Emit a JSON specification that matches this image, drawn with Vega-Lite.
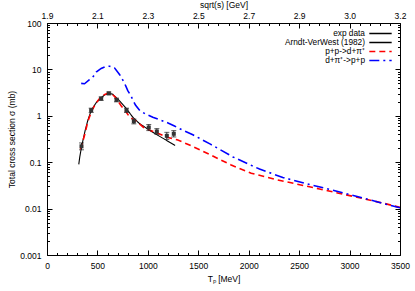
{
  "$schema": "https://vega.github.io/schema/vega-lite/v6.json",
  "width": 353,
  "height": 232,
  "autosize": {"type": "none"},
  "padding": {"left": 47, "top": 23, "right": 15, "bottom": 36},
  "config": {
    "view": {"stroke": "black", "strokeWidth": 1},
    "font": "Liberation Sans",
    "axis": {"labelFontSize": 8.5, "titleFontSize": 8.5, "titleFontWeight": "normal", "labelColor": "black", "titleColor": "black", "domain": false, "tickColor": "black", "grid": false, "labelFont": "Liberation Sans", "titleFont": "Liberation Sans"},
    "legend": {"labelFontSize": 8.3, "labelFont": "Liberation Sans", "labelColor": "black", "padding": 0}
  },
  "datasets": {
    "arndt": [
      {"series": "Arndt-VerWest (1982)", "T": 315, "sigma": 0.09},
      {"series": "Arndt-VerWest (1982)", "T": 325, "sigma": 0.13},
      {"series": "Arndt-VerWest (1982)", "T": 340, "sigma": 0.2},
      {"series": "Arndt-VerWest (1982)", "T": 360, "sigma": 0.32},
      {"series": "Arndt-VerWest (1982)", "T": 380, "sigma": 0.5},
      {"series": "Arndt-VerWest (1982)", "T": 405, "sigma": 0.8},
      {"series": "Arndt-VerWest (1982)", "T": 438, "sigma": 1.3},
      {"series": "Arndt-VerWest (1982)", "T": 488, "sigma": 1.92},
      {"series": "Arndt-VerWest (1982)", "T": 537, "sigma": 2.45},
      {"series": "Arndt-VerWest (1982)", "T": 570, "sigma": 2.8},
      {"series": "Arndt-VerWest (1982)", "T": 613, "sigma": 3.1},
      {"series": "Arndt-VerWest (1982)", "T": 653, "sigma": 2.9},
      {"series": "Arndt-VerWest (1982)", "T": 719, "sigma": 2.1},
      {"series": "Arndt-VerWest (1982)", "T": 785, "sigma": 1.45},
      {"series": "Arndt-VerWest (1982)", "T": 851, "sigma": 0.93},
      {"series": "Arndt-VerWest (1982)", "T": 917, "sigma": 0.68},
      {"series": "Arndt-VerWest (1982)", "T": 1016, "sigma": 0.49},
      {"series": "Arndt-VerWest (1982)", "T": 1099, "sigma": 0.38},
      {"series": "Arndt-VerWest (1982)", "T": 1180, "sigma": 0.3},
      {"series": "Arndt-VerWest (1982)", "T": 1270, "sigma": 0.23}
    ],
    "model": [
      {"series": "p+p->d+π⁺", "T": 332, "sigma": 0.19},
      {"series": "p+p->d+π⁺", "T": 372, "sigma": 0.38},
      {"series": "p+p->d+π⁺", "T": 405, "sigma": 0.75},
      {"series": "p+p->d+π⁺", "T": 438, "sigma": 1.2},
      {"series": "p+p->d+π⁺", "T": 480, "sigma": 1.8},
      {"series": "p+p->d+π⁺", "T": 521, "sigma": 2.35},
      {"series": "p+p->d+π⁺", "T": 560, "sigma": 2.8},
      {"series": "p+p->d+π⁺", "T": 603, "sigma": 3.05},
      {"series": "p+p->d+π⁺", "T": 640, "sigma": 3.0},
      {"series": "p+p->d+π⁺", "T": 679, "sigma": 2.5},
      {"series": "p+p->d+π⁺", "T": 735, "sigma": 1.65},
      {"series": "p+p->d+π⁺", "T": 780, "sigma": 1.25},
      {"series": "p+p->d+π⁺", "T": 818, "sigma": 0.95},
      {"series": "p+p->d+π⁺", "T": 900, "sigma": 0.72},
      {"series": "p+p->d+π⁺", "T": 967, "sigma": 0.54},
      {"series": "p+p->d+π⁺", "T": 1099, "sigma": 0.42},
      {"series": "p+p->d+π⁺", "T": 1182, "sigma": 0.35},
      {"series": "p+p->d+π⁺", "T": 1297, "sigma": 0.3},
      {"series": "p+p->d+π⁺", "T": 1413, "sigma": 0.235},
      {"series": "p+p->d+π⁺", "T": 1611, "sigma": 0.147},
      {"series": "p+p->d+π⁺", "T": 1826, "sigma": 0.087},
      {"series": "p+p->d+π⁺", "T": 2025, "sigma": 0.058},
      {"series": "p+p->d+π⁺", "T": 2256, "sigma": 0.043},
      {"series": "p+p->d+π⁺", "T": 2471, "sigma": 0.034},
      {"series": "p+p->d+π⁺", "T": 2702, "sigma": 0.0265},
      {"series": "p+p->d+π⁺", "T": 2933, "sigma": 0.0205},
      {"series": "p+p->d+π⁺", "T": 3131, "sigma": 0.0165},
      {"series": "p+p->d+π⁺", "T": 3329, "sigma": 0.0132},
      {"series": "p+p->d+π⁺", "T": 3500, "sigma": 0.0106},
      {"series": "d+π⁺->p+p", "T": 339, "sigma": 5.0},
      {"series": "d+π⁺->p+p", "T": 372, "sigma": 4.9},
      {"series": "d+π⁺->p+p", "T": 421, "sigma": 6.0},
      {"series": "d+π⁺->p+p", "T": 454, "sigma": 6.8},
      {"series": "d+π⁺->p+p", "T": 488, "sigma": 8.8},
      {"series": "d+π⁺->p+p", "T": 537, "sigma": 10.5},
      {"series": "d+π⁺->p+p", "T": 585, "sigma": 11.6},
      {"series": "d+π⁺->p+p", "T": 620, "sigma": 11.7},
      {"series": "d+π⁺->p+p", "T": 669, "sigma": 10.8},
      {"series": "d+π⁺->p+p", "T": 719, "sigma": 7.8},
      {"series": "d+π⁺->p+p", "T": 768, "sigma": 5.1},
      {"series": "d+π⁺->p+p", "T": 801, "sigma": 3.5},
      {"series": "d+π⁺->p+p", "T": 835, "sigma": 2.6},
      {"series": "d+π⁺->p+p", "T": 877, "sigma": 1.7},
      {"series": "d+π⁺->p+p", "T": 920, "sigma": 1.3},
      {"series": "d+π⁺->p+p", "T": 975, "sigma": 1.1},
      {"series": "d+π⁺->p+p", "T": 1049, "sigma": 0.93},
      {"series": "d+π⁺->p+p", "T": 1120, "sigma": 0.82},
      {"series": "d+π⁺->p+p", "T": 1200, "sigma": 0.7},
      {"series": "d+π⁺->p+p", "T": 1264, "sigma": 0.6},
      {"series": "d+π⁺->p+p", "T": 1363, "sigma": 0.47},
      {"series": "d+π⁺->p+p", "T": 1446, "sigma": 0.39},
      {"series": "d+π⁺->p+p", "T": 1620, "sigma": 0.245},
      {"series": "d+π⁺->p+p", "T": 1843, "sigma": 0.13},
      {"series": "d+π⁺->p+p", "T": 2107, "sigma": 0.071},
      {"series": "d+π⁺->p+p", "T": 2338, "sigma": 0.047},
      {"series": "d+π⁺->p+p", "T": 2570, "sigma": 0.0345},
      {"series": "d+π⁺->p+p", "T": 2818, "sigma": 0.0255},
      {"series": "d+π⁺->p+p", "T": 3066, "sigma": 0.0185},
      {"series": "d+π⁺->p+p", "T": 3296, "sigma": 0.0136},
      {"series": "d+π⁺->p+p", "T": 3500, "sigma": 0.0104}
    ],
    "exp": [
      {"T": 342, "sigma": 0.22, "lo": 0.185, "hi": 0.26},
      {"T": 438, "sigma": 1.32, "lo": 1.18, "hi": 1.46},
      {"T": 537, "sigma": 2.35, "lo": 2.15, "hi": 2.55},
      {"T": 613, "sigma": 3.05, "lo": 2.85, "hi": 3.25},
      {"T": 689, "sigma": 2.2, "lo": 2.0, "hi": 2.4},
      {"T": 788, "sigma": 1.32, "lo": 1.18, "hi": 1.46},
      {"T": 861, "sigma": 0.76, "lo": 0.67, "hi": 0.85},
      {"T": 1009, "sigma": 0.56, "lo": 0.48, "hi": 0.65},
      {"T": 1089, "sigma": 0.46, "lo": 0.4, "hi": 0.53},
      {"T": 1188, "sigma": 0.37, "lo": 0.31, "hi": 0.44},
      {"T": 1257, "sigma": 0.41, "lo": 0.35, "hi": 0.48}
    ]
  },
  "layer": [
    {
      "data": {"name": "arndt"},
      "mark": {"type": "line", "strokeWidth": 1.1, "clip": true},
      "encoding": {
        "x": {"field": "T", "type": "quantitative",
          "scale": {"domain": [0, 3500], "nice": false, "zero": false},
          "axis": {"orient": "bottom", "title": "Tₚ [MeV]", "format": "d",
            "values": [0,100,200,300,400,500,600,700,800,900,1000,1100,1200,1300,1400,1500,1600,1700,1800,1900,2000,2100,2200,2300,2400,2500,2600,2700,2800,2900,3000,3100,3200,3300,3400,3500],
            "labelExpr": "datum.value % 500 == 0 ? datum.label : ''",
            "tickSize": {"condition": {"test": "datum.value % 500 == 0", "value": -5}, "value": -2.5},
            "labelPadding": 11, "titlePadding": 5, "labelFlush": false}},
        "y": {"field": "sigma", "type": "quantitative",
          "scale": {"type": "log", "domain": [0.001, 100], "nice": false},
          "axis": {"orient": "left", "title": "Total cross section σ (mb)",
            "values": [0.001,0.002,0.003,0.004,0.005,0.006,0.007,0.008,0.009,0.01,0.02,0.03,0.04,0.05,0.06,0.07,0.08,0.09,0.1,0.2,0.3,0.4,0.5,0.6,0.7,0.8,0.9,1,2,3,4,5,6,7,8,9,10,20,30,40,50,60,70,80,90,100],
            "labelExpr": "abs(log(datum.value)/LN10 - round(log(datum.value)/LN10)) < 0.000001 ? format(datum.value, '~g') : ''",
            "tickSize": {"condition": {"test": "abs(log(datum.value)/LN10 - round(log(datum.value)/LN10)) < 0.000001", "value": -5}, "value": -2.5},
            "labelPadding": 11, "titlePadding": 3, "labelFlush": false}},
        "color": {"field": "series", "type": "nominal",
          "scale": {"domain": ["exp data", "Arndt-VerWest (1982)", "p+p->d+π⁺", "d+π⁺->p+p"], "range": ["black", "black", "#ff0000", "#0000ff"]},
          "legend": {"title": null, "orient": "top-right", "offset": 5, "symbolType": "M-2.5,0H2.5", "symbolSize": 80, "symbolStrokeWidth": 1.5, "rowPadding": -2.5, "labelAlign": "right", "labelOffset": -21}},
        "strokeDash": {"field": "series", "type": "nominal",
          "scale": {"domain": ["exp data", "Arndt-VerWest (1982)", "p+p->d+π⁺", "d+π⁺->p+p"], "range": [[1, 0], [1, 0], [6, 4], [10, 4, 2, 4]]},
          "legend": {"title": null, "orient": "top-right", "offset": 5, "symbolType": "M-2.5,0H2.5", "symbolSize": 80, "symbolStrokeWidth": 1.5, "rowPadding": -2.5, "labelAlign": "right", "labelOffset": -21}}
      }
    },
    {
      "data": {"name": "model"},
      "mark": {"type": "line", "strokeWidth": 1.6, "clip": true},
      "encoding": {
        "x": {"field": "T", "type": "quantitative", "scale": {"domain": [0, 3500], "nice": false, "zero": false}, "axis": null},
        "y": {"field": "sigma", "type": "quantitative", "scale": {"type": "log", "domain": [0.001, 100], "nice": false}, "axis": null},
        "color": {"field": "series", "type": "nominal",
          "scale": {"domain": ["exp data", "Arndt-VerWest (1982)", "p+p->d+π⁺", "d+π⁺->p+p"], "range": ["black", "black", "#ff0000", "#0000ff"]},
          "legend": {"title": null, "orient": "top-right", "offset": 5, "symbolType": "M-2.5,0H2.5", "symbolSize": 80, "symbolStrokeWidth": 1.5, "rowPadding": -2.5, "labelAlign": "right", "labelOffset": -21}},
        "strokeDash": {"field": "series", "type": "nominal",
          "scale": {"domain": ["exp data", "Arndt-VerWest (1982)", "p+p->d+π⁺", "d+π⁺->p+p"], "range": [[1, 0], [1, 0], [6, 4], [10, 4, 2, 4]]},
          "legend": {"title": null, "orient": "top-right", "offset": 5, "symbolType": "M-2.5,0H2.5", "symbolSize": 80, "symbolStrokeWidth": 1.5, "rowPadding": -2.5, "labelAlign": "right", "labelOffset": -21}}
      }
    },
    {
      "data": {"name": "exp"},
      "mark": {"type": "errorbar", "ticks": true, "color": "#222222"},
      "encoding": {
        "x": {"field": "T", "type": "quantitative", "scale": {"domain": [0, 3500], "nice": false, "zero": false}, "axis": null},
        "y": {"field": "lo", "type": "quantitative", "scale": {"type": "log", "domain": [0.001, 100], "nice": false}, "axis": null},
        "y2": {"field": "hi"}
      }
    },
    {
      "data": {"name": "exp"},
      "mark": {"type": "square", "size": 16, "color": "#333333", "filled": true, "opacity": 1},
      "encoding": {
        "x": {"field": "T", "type": "quantitative", "scale": {"domain": [0, 3500], "nice": false, "zero": false},
          "axis": {"orient": "top", "title": "sqrt(s) [GeV]",
            "values": [0,100,200,300,400,500,600,700,800,900,1000,1100,1200,1300,1400,1500,1600,1700,1800,1900,2000,2100,2200,2300,2400,2500,2600,2700,2800,2900,3000,3100,3200,3300,3400,3500],
            "labelExpr": "datum.value == 0 ? '1.9' : datum.value == 500 ? '2.1' : datum.value == 1000 ? '2.3' : datum.value == 1500 ? '2.5' : datum.value == 2000 ? '2.7' : datum.value == 2500 ? '2.9' : datum.value == 3000 ? '3.0' : datum.value == 3500 ? '3.2' : ''",
            "tickSize": {"condition": {"test": "datum.value % 500 == 0", "value": -5}, "value": -2.5},
            "labelPadding": 8, "titlePadding": 2, "labelFlush": false}},
        "y": {"field": "sigma", "type": "quantitative", "scale": {"type": "log", "domain": [0.001, 100], "nice": false},
          "axis": {"orient": "right", "title": null, "labels": false,
            "values": [0.001,0.002,0.003,0.004,0.005,0.006,0.007,0.008,0.009,0.01,0.02,0.03,0.04,0.05,0.06,0.07,0.08,0.09,0.1,0.2,0.3,0.4,0.5,0.6,0.7,0.8,0.9,1,2,3,4,5,6,7,8,9,10,20,30,40,50,60,70,80,90,100],
            "tickSize": {"condition": {"test": "abs(log(datum.value)/LN10 - round(log(datum.value)/LN10)) < 0.000001", "value": -5}, "value": -2.5}}}
      }
    }
  ],
  "resolve": {"axis": {"x": "independent", "y": "independent"}}
}
